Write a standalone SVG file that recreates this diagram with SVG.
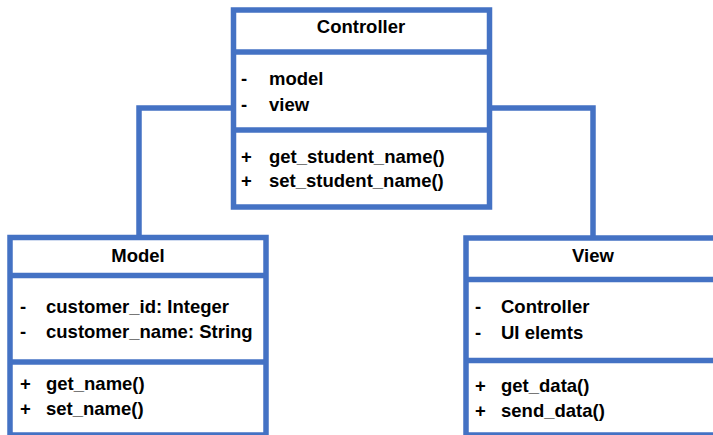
<svg xmlns="http://www.w3.org/2000/svg" width="713" height="435" viewBox="0 0 713 435">
<style>
.box{fill:#ffffff;stroke:#4472C4;stroke-width:5.5}
.div{stroke:#4472C4;stroke-width:5.5;fill:none}
.conn{stroke:#4472C4;stroke-width:5.5;fill:none}
text{font-family:"Liberation Sans",Arial,sans-serif;font-weight:bold;font-size:18.5px;fill:#000}
.t{text-anchor:middle}
</style>
<rect width="713" height="435" fill="#ffffff"/>
<g id="connectors">
<polyline class="conn" points="234,108 139,108 139,237"/>
<polyline class="conn" points="489,108 593,108 593,238"/>
</g>
<g id="controller">
<rect class="box" x="233.5" y="10" width="256" height="197"/>
<line class="div" x1="233.5" y1="52" x2="489.5" y2="52"/>
<line class="div" x1="233.5" y1="130" x2="489.5" y2="130"/>
<text class="t" x="361" y="33">Controller</text>
<text x="241" y="85">-</text><text x="269" y="85">model</text>
<text x="241" y="111">-</text><text x="269" y="111">view</text>
<text x="241" y="163">+</text><text x="269" y="163">get_student_name()</text>
<text x="241" y="187">+</text><text x="269" y="187">set_student_name()</text>
</g>
<g id="model">
<rect class="box" x="10" y="237.5" width="256" height="197.5"/>
<line class="div" x1="10" y1="275.5" x2="266" y2="275.5"/>
<line class="div" x1="10" y1="362" x2="266" y2="362"/>
<text class="t" x="138" y="262">Model</text>
<text x="20" y="313">-</text><text x="46" y="313">customer_id: Integer</text>
<text x="20" y="338">-</text><text x="46" y="338">customer_name: String</text>
<text x="20" y="390">+</text><text x="46" y="390">get_name()</text>
<text x="20" y="415">+</text><text x="46" y="415">set_name()</text>
</g>
<g id="view">
<rect class="box" x="466" y="238" width="260" height="197"/>
<line class="div" x1="466" y1="279.5" x2="713" y2="279.5"/>
<line class="div" x1="466" y1="360.5" x2="713" y2="360.5"/>
<text class="t" x="593" y="262">View</text>
<text x="475" y="313">-</text><text x="501" y="313">Controller</text>
<text x="475" y="339">-</text><text x="501" y="339">UI elemts</text>
<text x="475" y="392">+</text><text x="501" y="392">get_data()</text>
<text x="475" y="417">+</text><text x="501" y="417">send_data()</text>
</g>
</svg>
